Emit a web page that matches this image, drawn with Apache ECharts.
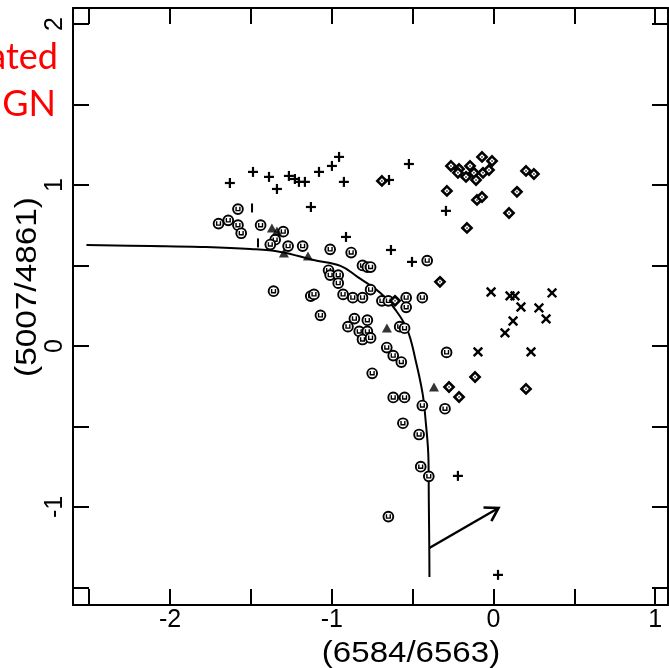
<!DOCTYPE html>
<html>
<head>
<meta charset="utf-8">
<script src="https://cdn.jsdelivr.net/npm/echarts@6/dist/echarts.min.js"></script>
<style>html,body{margin:0;padding:0;background:#fff;}#c{width:669px;height:668px;}</style>
</head>
<body>
<div id="c"></div>
<script>
// ---- data ----
const xTickValues = [-2.5, -2, -1.5, -1, -0.5, 0, 0.5, 1];
const xLabelValues = [-2, -1, 0, 1];
const yTickValues = [-1.5, -1, -0.5, 0, 0.5, 1, 1.5, 2];
const yLabelValues = [-1, 0, 1, 2];

const circlePts = [
  [-1.58,0.85],[-1.70,0.76],[-1.64,0.78],[-1.58,0.75],[-1.56,0.70],[-1.44,0.75],[-1.30,0.71],
  [-1.35,0.66],[-1.38,0.63],[-1.27,0.62],[-1.18,0.62],[-1.01,0.60],[-0.88,0.58],[-0.41,0.53],
  [-0.81,0.50],[-0.78,0.49],[-0.76,0.49],[-1.02,0.47],[-1.01,0.44],[-0.96,0.44],[-0.96,0.39],
  [-0.76,0.35],[-1.36,0.34],[-1.13,0.31],[-1.11,0.32],[-0.93,0.32],[-0.87,0.30],[-0.81,0.30],
  [-0.69,0.28],[-0.65,0.28],[-0.54,0.30],[-0.54,0.24],[-0.44,0.30],[-1.07,0.19],[-0.86,0.17],
  [-0.78,0.16],[-0.90,0.12],[-0.83,0.09],[-0.78,0.09],[-0.81,0.04],[-0.76,0.05],[-0.58,0.12],
  [-0.55,0.11],[-0.66,-0.01],[-0.62,-0.06],[-0.57,-0.10],[-0.75,-0.17],[-0.29,-0.04],[-0.62,-0.32],
  [-0.55,-0.32],[-0.44,-0.37],[-0.30,-0.39],[-0.56,-0.48],[-0.46,-0.55],[-0.45,-0.75],[-0.40,-0.81],
  [-0.65,-1.06]
];
const diamondPts = [
  [-0.69,1.025],[-0.609,0.28],[-0.331,0.398],[-0.288,0.963],[-0.275,-0.255],[-0.213,-0.317],
  [-0.114,-0.193],[0.201,-0.267],[-0.263,1.118],[-0.213,1.099],[-0.145,1.118],[-0.071,1.174],
  [-0.009,1.149],[-0.22,1.075],[-0.17,1.05],[-0.121,1.075],[-0.108,1.031],[-0.065,1.075],
  [-0.028,1.093],[0.201,1.087],[0.25,1.068],[0.145,0.957],[-0.102,0.907],[-0.071,0.925],
  [0.096,0.826],[-0.164,0.733]
];
const plusPts = [
  [-1.63,1.012],[-1.487,1.081],[-1.388,1.05],[-1.339,0.975],[-1.265,1.056],[-1.228,1.037],
  [-1.203,1.019],[-1.166,1.019],[-1.079,1.081],[-0.999,1.118],[-0.955,1.174],[-0.925,1.019],
  [-0.646,1.031],[-0.523,1.13],[-0.294,0.839],[-1.129,0.863],[-0.912,0.677],[-0.634,0.596],
  [-0.504,0.522],[-0.22,-0.807],[0.028,-1.422]
];
const crossPts = [
  [-0.015,0.335],[0.102,0.311],[0.133,0.311],[0.362,0.329],[0.17,0.242],[0.281,0.236],
  [0.325,0.168],[0.121,0.155],[0.071,0.081],[-0.096,-0.037],[0.232,-0.037]
];
const trianglePts = [
  [-1.37,0.733],[-1.339,0.714],[-1.296,0.578],[-1.147,0.559],[-0.659,0.112],[-0.368,-0.255]
];
const barPts = [[-1.493,0.857],[-1.456,0.64]];
const curvePts = [
  [-2.517,0.627],[-2.121,0.621],[-1.812,0.615],[-1.503,0.602],[-1.317,0.584],[-1.113,0.534],
  [-0.946,0.497],[-0.841,0.429],[-0.699,0.329],[-0.606,0.224],[-0.532,0.099],[-0.482,-0.087],
  [-0.439,-0.292],[-0.42,-0.46],[-0.402,-0.708],[-0.400,-0.957],[-0.397,-1.255],[-0.396,-1.435]
];
const arrowPts = [[-0.397,-1.255,0.031,-1.006]];

// ---- chart ----
const ink = '#000';
const fontFam = '"Liberation Sans", "DejaVu Sans", sans-serif';

function axisX(pos, showLabel) {
  return {
    type: 'value', position: pos, min: -2.6, max: 1.079,
    axisLine: {show: true, onZero: false, lineStyle: {color: ink, width: 2}},
    axisTick: {show: true, inside: true, length: 16, customValues: xTickValues, lineStyle: {color: ink, width: 2}},
    axisLabel: {show: showLabel, customValues: xLabelValues, color: ink, fontSize: 25, fontFamily: fontFam, margin: 3},
    splitLine: {show: false}
  };
}
function axisY(pos, showLabel) {
  return {
    type: 'value', position: pos, min: -1.609, max: 2.099,
    axisLine: {show: true, onZero: false, lineStyle: {color: ink, width: 2}},
    axisTick: {show: true, inside: true, length: 16, customValues: yTickValues, lineStyle: {color: ink, width: 2}},
    axisLabel: {show: showLabel, customValues: yLabelValues, color: ink, fontSize: 25, fontFamily: fontFam, rotate: 90, margin: 5},
    splitLine: {show: false}
  };
}

function customSeries(data, drawFn) {
  return {
    type: 'custom', coordinateSystem: 'cartesian2d', xAxisIndex: 0, yAxisIndex: 0,
    data: data, encode: {x: 0, y: 1}, clip: true, silent: true,
    renderItem: function (params, api) {
      const p = api.coord([api.value(0), api.value(1)]);
      return drawFn(p[0], p[1]);
    }
  };
}

const drawCircle = (x, y) => ({
  type: 'group', children: [
    {type: 'circle', shape: {cx: x, cy: y, r: 4.9}, style: {fill: '#fff', stroke: ink, lineWidth: 1.9}},
    {type: 'polyline', shape: {points: [[x - 1.9, y - 2.3], [x - 1.9, y + 1.5], [x + 1.9, y + 1.5], [x + 1.9, y - 2.3]]},
      style: {fill: null, stroke: ink, lineWidth: 1.4}}
  ]
});
const drawDiamond = (x, y) => ({
  type: 'group', children: [
    {type: 'polygon', shape: {points: [[x, y - 4.6], [x + 4.6, y], [x, y + 4.6], [x - 4.6, y]]},
      style: {fill: '#fff', stroke: ink, lineWidth: 2.6}},
    {type: 'circle', shape: {cx: x, cy: y, r: 1}, style: {fill: '#555'}}
  ]
});
const drawPlus = (x, y) => ({
  type: 'group', children: [
    {type: 'line', shape: {x1: x - 5, y1: y, x2: x + 5, y2: y}, style: {stroke: ink, lineWidth: 2.2}},
    {type: 'line', shape: {x1: x, y1: y - 5, x2: x, y2: y + 5}, style: {stroke: ink, lineWidth: 2.2}}
  ]
});
const drawCross = (x, y) => ({
  type: 'group', children: [
    {type: 'line', shape: {x1: x - 4.3, y1: y - 4.3, x2: x + 4.3, y2: y + 4.3}, style: {stroke: ink, lineWidth: 2.4}},
    {type: 'line', shape: {x1: x - 4.3, y1: y + 4.3, x2: x + 4.3, y2: y - 4.3}, style: {stroke: ink, lineWidth: 2.4}}
  ]
});
const drawBar = (x, y) => ({
  type: 'line', shape: {x1: x, y1: y - 4.5, x2: x, y2: y + 4.5}, style: {stroke: ink, lineWidth: 2}
});

const option = {
  backgroundColor: '#fff',
  animation: false,
  grid: {left: 73, right: 1, top: 8, bottom: 63, containLabel: false},
  xAxis: [axisX('bottom', true), axisX('top', false)],
  yAxis: [axisY('left', true), axisY('right', false)],
  series: [
    {
      type: 'line', data: curvePts, smooth: 0.4, showSymbol: false, symbol: 'none',
      lineStyle: {color: ink, width: 2}, silent: true, z: 1
    },
    {
      type: 'custom', coordinateSystem: 'cartesian2d', data: arrowPts, silent: true,
      encode: {x: [0, 2], y: [1, 3]},
      renderItem: function (params, api) {
        const a = api.coord([api.value(0), api.value(1)]);
        const b = api.coord([api.value(2), api.value(3)]);
        const ang = Math.atan2(b[1] - a[1], b[0] - a[0]);
        const L = 15, w = 0.55;
        const h1 = [b[0] - L * Math.cos(ang - w), b[1] - L * Math.sin(ang - w)];
        const h2 = [b[0] - L * Math.cos(ang + w), b[1] - L * Math.sin(ang + w)];
        return {type: 'group', children: [
          {type: 'line', shape: {x1: a[0], y1: a[1], x2: b[0], y2: b[1]}, style: {stroke: ink, lineWidth: 2.4}},
          {type: 'polyline', shape: {points: [h1, b, h2]}, style: {fill: null, stroke: ink, lineWidth: 2.6}}
        ]};
      }
    },
    customSeries(circlePts, drawCircle),
    customSeries(diamondPts, drawDiamond),
    customSeries(plusPts, drawPlus),
    customSeries(crossPts, drawCross),
    customSeries(barPts, drawBar),
    {
      type: 'scatter', data: trianglePts, symbol: 'triangle', symbolSize: [10, 9],
      itemStyle: {color: ink}, silent: true
    }
  ],
  graphic: [
    {type: 'text', x: 58, y: 57, style: {text: 'ated', font: '36px Lato, "Open Sans", sans-serif', fill: '#ff0000',
      textAlign: 'right', align: 'right', textVerticalAlign: 'middle', verticalAlign: 'middle'}},
    {type: 'text', x: 56, y: 104, style: {text: 'GN', font: '36px Lato, "Open Sans", sans-serif', fill: '#ff0000',
      textAlign: 'right', align: 'right', textVerticalAlign: 'middle', verticalAlign: 'middle'}},
    {type: 'text', x: 411, y: 654, scaleX: 1.14, style: {text: '(6584/6563)', font: '29px "Liberation Sans", sans-serif', fill: ink,
      textAlign: 'center', align: 'center', textVerticalAlign: 'middle', verticalAlign: 'middle'}},
    {type: 'text', x: 28, y: 287, rotation: Math.PI / 2, scaleX: 1.15, style: {text: '(5007/4861)', font: '29px "Liberation Sans", sans-serif', fill: ink,
      textAlign: 'center', align: 'center', textVerticalAlign: 'middle', verticalAlign: 'middle'}}
  ]
};

const chart = echarts.init(document.getElementById('c'), null, {renderer: 'canvas'});
chart.setOption(option);
</script>
</body>
</html>
